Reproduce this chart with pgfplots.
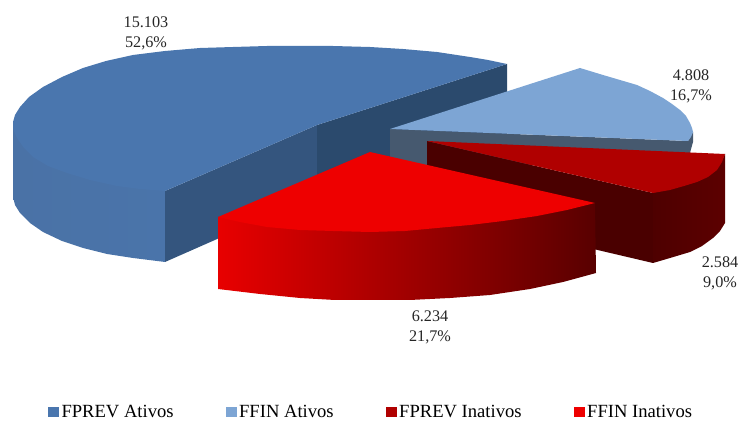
\documentclass[border=0pt]{standalone}
\usepackage{fontspec}
\setmainfont{Liberation Serif}
\usepackage{pgfplots}
\pgfplotsset{compat=1.18}
\definecolor{cBlue}{HTML}{4A76AE}
\definecolor{cLight}{HTML}{7DA5D4}
\definecolor{cDark}{HTML}{B00000}
\definecolor{cRed}{HTML}{EE0000}
\definecolor{sBlueL}{HTML}{4A72A6}
\definecolor{sBlueR}{HTML}{4A74AA}
\definecolor{sBlueF}{HTML}{34557E}
\definecolor{sBlueB}{HTML}{2B4A6D}
\definecolor{sLight}{HTML}{46596F}
\definecolor{sDarkF}{HTML}{4A0000}
\definecolor{sDarkL}{HTML}{4E0000}
\definecolor{sDarkR}{HTML}{5C0000}
\definecolor{sRedL}{HTML}{E80000}
\definecolor{sRedR}{HTML}{580000}
\begin{document}
\begin{tikzpicture}
\useasboundingbox (0,0) rectangle (740pt,422pt);
\begin{axis}[
  at={(0,0)}, anchor=south west,
  scale only axis, width=740pt, height=422pt,
  xmin=0, xmax=740, ymin=0, ymax=422, y dir=reverse,
  hide axis, clip=false,
  legend columns=4,
  legend cell align=left,
  legend style={draw=none, fill=none, at={(axis cs:48,412)}, anchor=west,
    font=\fontsize{18.6}{20}\selectfont, inner sep=0pt, outer sep=0pt,
    /tikz/every even column/.append style={column sep=50pt},
    /tikz/every odd column/.append style={column sep=0.5pt}},
  legend image code/.code={\fill[#1] (0pt,-5pt) rectangle (11pt,5pt);},
  every axis plot/.append style={draw=none, line width=0pt},
]
\addlegendimage{fill=cBlue}
\addlegendentry{FPREV Ativos}
\addlegendimage{fill=cLight}
\addlegendentry{FFIN Ativos}
\addlegendimage{fill=cDark}
\addlegendentry{FPREV Inativos}
\addlegendimage{fill=cRed}
\addlegendentry{FFIN Inativos}
% FPREV Ativos: side faces (upper edge runs under the top face)
\addplot[forget plot, shade, left color=sBlueL, right color=sBlueR] coordinates {
 (13,122)(17,127)(24,138)(33,147)(48,156)(67,163)(90,170)(117,176)(140,179)(165,181)
 (165,262)(133,258)(107,254)(83,248)(62,241)(43,232)(30,223)(20,213)(15,205)(13,197)};
\addplot[forget plot, fill=sBlueF] coordinates {(165,191)(317,125)(317,195)(165,262)};
\addplot[forget plot, fill=sBlueB] coordinates {(317,125)(507,64)(507,135)(317,195)};
% FPREV Ativos: top
\addplot[forget plot, fill=cBlue] coordinates {
 (165,191)(317,125)(507,64)(488,60)(470,57)(437,52)(403,49)(370,47)(333,46)(300,46)(267,46)(233,47)(200,48)(165,51)(133,55)(106,61)(83,68)(62,77)(43,87)(29,97)(20,107)(15,115)(13,122)(13,129)(17,138)(24,148)(33,157)(48,166)(67,173)(90,180)(117,186)(140,189)(165,191)};
% FFIN Ativos
\addplot[forget plot, fill=sLight] coordinates {(390,129)(688,141)(693,132)(693,142)(688,160)(390,170)};
\addplot[forget plot, fill=cLight] coordinates {
 (390,129)(580,68)(603,75)(620,80)(637,85)(650,91)(663,98)(672,104)(680,110)(686,116)(690,123)(692,128)(693,132)(691,137)(688,141)};
% FPREV Inativos
\addplot[forget plot, fill=sDarkF] coordinates {(427,141)(653,193)(653,263)(427,210)};
\addplot[forget plot, shade, left color=sDarkL, right color=sDarkR] coordinates {
 (653,188)(670,185)(684,181)(697,177)(708,172)(717,165)(722,160)(725,154)(725,223)(720,231)(713,238)(702,246)(690,252)(680,255)(670,258)(653,263)};
\addplot[forget plot, fill=cDark] coordinates {
 (427,141)(725,154)(722,162)(717,170)(708,177)(697,182)(684,186)(670,190)(653,193)};
% FFIN Inativos
\addplot[forget plot, shade, left color=sRedL, right color=sRedR] coordinates {
 (218,217)(240,217)(267,222)(300,225)(333,226)(370,227)(405,226)(437,223)(470,220)(503,216)(537,211)(567,205)(595,203)(596,273)(563,282)(530,289)(490,295)(450,298)(410,300)(370,300)(335,300)(300,298)(260,294)(218,289)};
\addplot[forget plot, fill=cRed] coordinates {
 (218,217)(370,152)(595,203)(567,210)(537,216)(503,221)(470,225)(437,228)(405,231)(370,232)(333,231)(300,230)(267,227)(240,222)};
% labels
\node[font=\fontsize{16.2}{20}\selectfont, align=center, text=black!85] at (axis cs:146,33) {15.103\\52,6\%};
\node[font=\fontsize{16.2}{20}\selectfont, align=center, text=black!85] at (axis cs:691,86.5) {4.808\\16,7\%};
\node[font=\fontsize{16.2}{20}\selectfont, align=center, text=black!85] at (axis cs:720,273.5) {2.584\\9,0\%};
\node[font=\fontsize{16.2}{20}\selectfont, align=center, text=black!85] at (axis cs:430,327.5) {6.234\\21,7\%};
\end{axis}
\end{tikzpicture}
\end{document}
